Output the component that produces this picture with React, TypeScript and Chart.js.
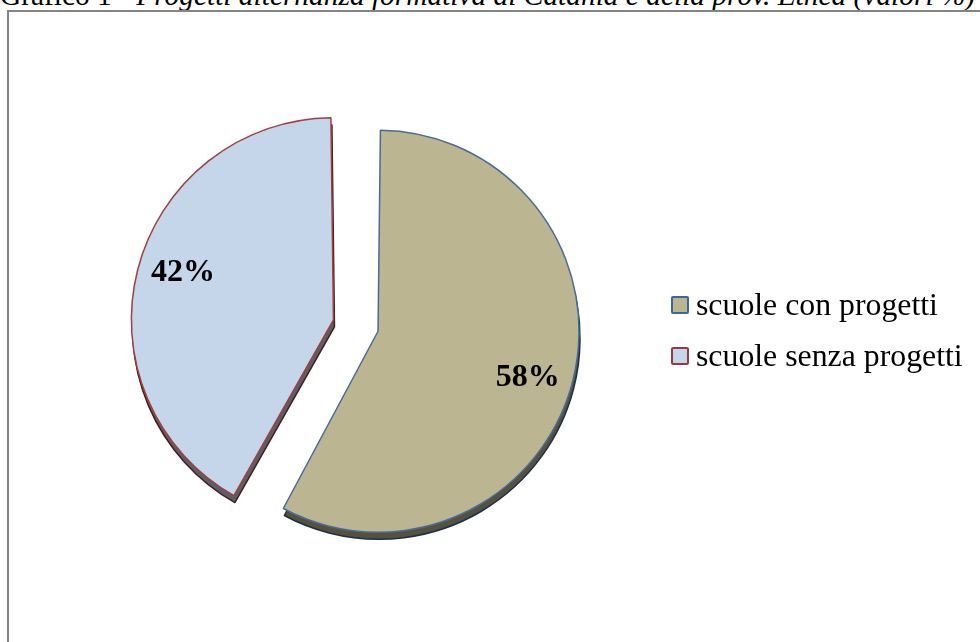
import React, { useEffect, useRef } from "react";
import { Chart, registerables } from "chart.js";

Chart.register(...registerables);

const titleUpright = "Grafico 1 - ";
const titleItalic = "Progetti alternanza formativa di Catania e della prov. Etnea (valori %)";
const categories = ["scuole con progetti", "scuole senza progetti"];
const values = [58, 42];
const valueLabels = ["58%", "42%"];
const fillColors = ["#BCB592", "#C5D5EA"];
const edgeColors = ["#4A6A96", "#A0403D"];
const legendEdgeColors = ["#3F6595", "#963B3B"];
const sliceOffsets = [60, 124];

const SERIF = "'Liberation Serif', 'Times New Roman', Times, serif";

// 3D-like thickness: a darkened copy of the slices drawn slightly below them
const depthPlugin = {
  id: "pieDepth",
  beforeDatasetsDraw(chart: any) {
    const ctx = chart.ctx;
    const meta = chart.getDatasetMeta(0);
    ctx.save();
    ctx.translate(1, 7);
    ctx.filter = "brightness(0.45)";
    meta.data.forEach((arc: any) => arc.draw(ctx));
    ctx.restore();
  },
};

const labelPlugin = {
  id: "sliceLabels",
  afterDatasetsDraw(chart: any) {
    const ctx = chart.ctx;
    const meta = chart.getDatasetMeta(0);
    ctx.save();
    ctx.font = `bold 32px ${SERIF}`;
    ctx.fillStyle = "#000";
    ctx.textAlign = "center";
    ctx.textBaseline = "middle";
    meta.data.forEach((arc: any, i: number) => {
      const p = arc.getProps(["x", "y", "startAngle", "endAngle", "outerRadius", "circumference"], true);
      const half = (p.startAngle + p.endAngle) / 2;
      const off = (arc.options.offset || 0) / 4;
      const fix = 1 - Math.sin(Math.min(Math.PI, p.circumference || 0));
      const cx = p.x + Math.cos(half) * off;
      const cy = p.y + Math.sin(half) * off;
      const r = (p.outerRadius + off * fix) * 0.78;
      const a = half + (3 * Math.PI) / 180;
      ctx.fillText(valueLabels[i], cx + Math.cos(a) * r, cy + Math.sin(a) * r);
    });
    ctx.restore();
  },
};

export default function App() {
  const canvasRef = useRef<HTMLCanvasElement | null>(null);

  useEffect(() => {
    if (!canvasRef.current) return;
    const chart = new Chart(canvasRef.current, {
      type: "pie",
      data: {
        labels: categories,
        datasets: [
          {
            data: values,
            backgroundColor: fillColors,
            borderColor: edgeColors,
            borderWidth: 1.5,
            offset: sliceOffsets,
            radius: 186,
          } as any,
        ],
      },
      options: {
        animation: false,
        responsive: false,
        maintainAspectRatio: false,
        layout: { padding: { left: 0, right: 253, top: 13, bottom: 0 } },
        plugins: {
          legend: { display: false },
          tooltip: { enabled: false },
          title: { display: false },
        },
      },
      plugins: [depthPlugin, labelPlugin],
    });
    return () => chart.destroy();
  }, []);

  return (
    <div
      style={{
        position: "fixed",
        left: 0,
        top: 0,
        width: 980,
        height: 642,
        overflow: "hidden",
        background: "#fff",
        fontFamily: SERIF,
      }}
    >
      <div
        style={{
          position: "absolute",
          left: 0,
          top: -19,
          fontSize: 29.4,
          lineHeight: "29px",
          whiteSpace: "nowrap",
          color: "#000",
        }}
      >
        {titleUpright}
        <i>{titleItalic}</i>
      </div>
      <div
        style={{
          position: "absolute",
          left: 7,
          top: 10,
          width: 990,
          height: 660,
          border: "2px solid #858585",
          boxSizing: "border-box",
        }}
      />
      <canvas
        ref={canvasRef}
        width={980}
        height={642}
        style={{ position: "absolute", left: 0, top: 0, width: 980, height: 642 }}
      />
      <div style={{ position: "absolute", left: 671, top: 279 }}>
        {categories.map((c, i) => (
          <div
            key={c}
            style={{
              display: "flex",
              alignItems: "center",
              height: 51,
              lineHeight: "51px",
              fontSize: 31.8,
              color: "#000",
              whiteSpace: "nowrap",
            }}
          >
            <span
              style={{
                display: "inline-block",
                width: 18,
                height: 18,
                boxSizing: "border-box",
                border: `2.5px solid ${legendEdgeColors[i]}`,
                borderRadius: 2,
                background: fillColors[i],
                marginRight: 7,
              }}
            />
            <span>{c}</span>
          </div>
        ))}
      </div>
    </div>
  );
}
